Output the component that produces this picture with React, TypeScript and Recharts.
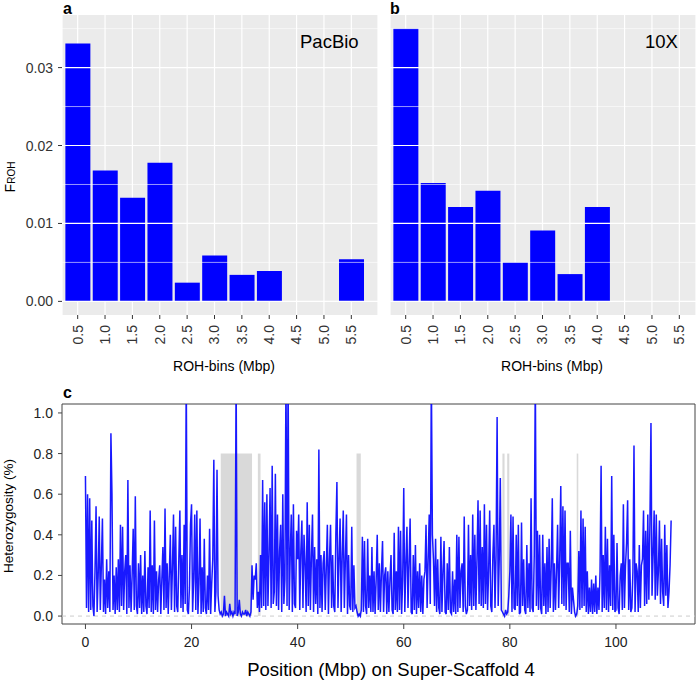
import React from 'react';
import {
  BarChart,
  Bar,
  XAxis,
  YAxis,
  CartesianGrid,
  ReferenceLine,
  ReferenceArea,
  LineChart,
  Line,
} from 'recharts';

const FONT = '"Liberation Sans", Arial, Helvetica, sans-serif';

// ---------- Panels a / b : F_ROH per ROH length bin ----------
const binLabels = ['0.5', '1.0', '1.5', '2.0', '2.5', '3.0', '3.5', '4.0', '4.5', '5.0', '5.5'];
const pacbioFroh = [0.0331, 0.0168, 0.0133, 0.0178, 0.0024, 0.0059, 0.0034, 0.0039, 0, 0, 0.0054];
const tenxFroh = [0.035, 0.0152, 0.0121, 0.0142, 0.005, 0.0091, 0.0035, 0.0121, 0, 0, 0];
const frohMajorTicks = [0, 0.01, 0.02, 0.03];
const frohMinorTicks = [0.005, 0.015, 0.025, 0.035];
const frohDomain: [number, number] = [-0.00175, 0.03675];

// ---------- Panel c : heterozygosity along Super-Scaffold 4 (0.2 Mbp windows) ----------
const hetWindowMbp = 0.2;
const hetValues = [
  0.69, 0.04, 0.6, 0.02, 0.58,
  0.03, 0.47, 0.05, 0.0, 0.22,
  0.54, 0.02, 0.2, 0.49, 0.03,
  0.25, 0.48, 0.02, 0.18, 0.01,
  0.28, 0.04, 0.22, 0.02, 0.9,
  0.6, 0.03, 0.2, 0.01, 0.24,
  0.03, 0.28, 0.02, 0.45, 0.05,
  0.44, 0.03, 0.22, 0.3, 0.01,
  0.67, 0.04, 0.25, 0.02, 0.2,
  0.43, 0.03, 0.59, 0.05, 0.01,
  0.26, 0.04, 0.3, 0.01, 0.2,
  0.02, 0.32, 0.05, 0.01, 0.24,
  0.04, 0.52, 0.02, 0.25, 0.01,
  0.47, 0.03, 0.22, 0.02, 0.18,
  0.25, 0.01, 0.18, 0.34, 0.03,
  0.53, 0.04, 0.26, 0.01, 0.2,
  0.4, 0.03, 0.24, 0.5, 0.02,
  0.44, 0.05, 0.02, 0.28, 0.52,
  0.04, 0.3, 0.02, 0.45, 0.06,
  1.2, 0.03, 0.01, 0.14, 0.45,
  0.55, 0.02, 0.18, 0.5, 0.03,
  0.52, 0.01, 0.16, 0.48, 0.01,
  0.24, 0.02, 0.38, 0.04, 0.01,
  0.2, 0.03, 0.43, 0.01, 0.16,
  0.28, 0.77, 0.02, 0.12, 0.72,
  0.1, 0.03, 0.01, 0.02, 0.0,
  0.01, 0.1, 0.0, 0.02, 0.01,
  0.0, 0.06, 0.01, 0.02, 0.0,
  0.02, 0.01, 1.2, 0.0, 0.02,
  0.08, 0.01, 0.0, 0.02, 0.01,
  0.01, 0.03, 0.0, 0.02, 0.01,
  0.0, 0.02, 0.25, 0.08, 0.2,
  0.18, 0.26, 0.04, 0.12, 0.02,
  0.3, 0.04, 0.67, 0.05, 0.56,
  0.03, 0.6, 0.05, 0.3, 0.63,
  0.04, 0.74, 0.06, 0.12, 0.7,
  0.05, 0.5, 0.03, 0.32, 0.45,
  0.02, 0.6, 0.06, 0.18, 1.2,
  0.05, 1.2, 0.03, 0.3, 0.5,
  0.02, 0.55, 0.06, 0.04, 0.42,
  0.28, 0.5, 0.03, 0.32, 0.47,
  0.04, 0.4, 0.26, 0.02, 0.56,
  0.05, 0.45, 0.03, 0.3, 0.5,
  0.02, 0.34, 0.06, 0.28, 0.01,
  0.82, 0.04, 0.3, 0.02, 0.26,
  0.32, 0.03, 0.24, 0.45, 0.01,
  0.28, 0.45, 0.04, 0.3, 0.05,
  0.02, 0.4, 0.66, 0.04, 0.28,
  0.48, 0.02, 0.3, 0.52, 0.04,
  0.28, 0.5, 0.01, 0.3, 0.05,
  0.03, 0.44, 0.02, 0.25, 0.04,
  0.05, 0.02, 0.0, 0.01, 0.0,
  0.03, 0.39, 0.02, 0.37, 0.05,
  0.01, 0.38, 0.04, 0.2, 0.02,
  0.34, 0.02, 0.22, 0.01, 0.18,
  0.4, 0.03, 0.26, 0.02, 0.22,
  0.37, 0.02, 0.2, 0.24, 0.01,
  0.22, 0.02, 0.18, 0.3, 0.03,
  0.01, 0.41, 0.03, 0.22, 0.02,
  0.44, 0.03, 0.42, 0.01, 0.18,
  0.63, 0.02, 0.26, 0.44, 0.04,
  0.26, 0.48, 0.02, 0.01, 0.3,
  0.03, 0.35, 0.01, 0.22, 0.04,
  0.26, 0.02, 0.2, 0.01, 0.18,
  0.22, 0.45, 0.04, 0.28, 0.5,
  0.06, 1.2, 0.4, 0.28, 0.05,
  0.38, 0.02, 0.28, 0.04, 0.01,
  0.39, 0.02, 0.22, 0.37, 0.02,
  0.01, 0.26, 0.03, 0.34, 0.02,
  0.01, 0.22, 0.02, 0.18, 0.01,
  0.4, 0.02, 0.39, 0.04, 0.22,
  0.26, 0.02, 0.49, 0.05, 0.01,
  0.03, 0.45, 0.05, 0.3, 0.03,
  0.5, 0.05, 0.4, 0.03, 0.28,
  0.57, 0.06, 0.52, 0.05, 0.34,
  0.04, 0.55, 0.06, 0.45, 0.03,
  0.22, 0.52, 0.05, 0.02, 0.3,
  0.45, 0.04, 0.3, 0.98, 0.05,
  0.28, 0.68, 0.03, 0.02, 0.01,
  0.0, 0.03, 0.01, 0.02, 0.1,
  0.22, 0.5, 0.02, 0.49, 0.04,
  0.03, 0.4, 0.05, 0.45, 0.01,
  0.02, 0.46, 0.05, 0.28, 0.03,
  0.01, 0.35, 0.04, 0.26, 0.02,
  0.58, 0.04, 0.02, 0.3, 1.2,
  0.05, 0.42, 0.03, 0.4, 0.04,
  0.01, 0.4, 0.05, 0.26, 0.01,
  0.34, 0.02, 0.38, 0.04, 0.24,
  0.58, 0.02, 0.26, 0.03, 0.22,
  0.45, 0.04, 0.28, 0.64, 0.06,
  0.54, 0.05, 0.52, 0.03, 0.26,
  0.26, 0.02, 0.42, 0.01, 0.14,
  0.08, 0.02, 0.0, 0.01, 0.05,
  0.32, 0.03, 0.52, 0.04, 0.48,
  0.05, 0.44, 0.02, 0.22, 0.01,
  0.14, 0.02, 0.18, 0.01, 0.16,
  0.02, 0.2, 0.01, 0.14, 0.03,
  0.22, 0.74, 0.02, 0.3, 0.04,
  0.44, 0.03, 0.38, 0.02, 0.25,
  0.05, 0.69, 0.03, 0.4, 0.02,
  0.03, 0.36, 0.04, 0.01, 0.2,
  0.26, 0.03, 0.55, 0.04, 0.25,
  0.36, 0.57, 0.03, 0.28, 0.02,
  0.04, 0.22, 0.84, 0.02, 0.26,
  0.22, 0.02, 0.35, 0.04, 0.25,
  0.28, 0.52, 0.05, 0.42, 0.06,
  0.5, 0.08, 0.45, 0.95, 0.1,
  0.3, 0.52, 0.08, 0.5, 0.1,
  0.22, 0.47, 0.06, 0.38, 0.12,
  0.05, 0.45, 0.1, 0.35, 0.04,
  0.12, 0.25, 0.47,
];
const rohStartMbp = [25.5, 32.5, 51.1, 78.6, 79.5, 92.6];
const rohEndMbp = [31.4, 33.0, 51.9, 79.0, 79.9, 92.9];
const rohTopHet = 0.8;
const posTicks = [0, 20, 40, 60, 80, 100];
const hetTicks = [0, 0.2, 0.4, 0.6, 0.8, 1.0];
const posDomain: [number, number] = [-4.42, 114.9];
const hetDomain: [number, number] = [-0.039, 1.044];

const pacbioData = binLabels.map((bin, i) => ({ bin, froh: pacbioFroh[i] }));
const tenxData = binLabels.map((bin, i) => ({ bin, froh: tenxFroh[i] }));
const hetData = hetValues.map((het, i) => ({ pos: i * hetWindowMbp, het }));

const RotatedTick = (props: any) => {
  const { x, y, payload } = props;
  return (
    <text
      x={x}
      y={y}
      transform={`rotate(-90 ${x} ${y})`}
      textAnchor="end"
      dy="0.35em"
      fill="#333333"
      fontSize={14}
      fontFamily={FONT}
    >
      {payload.value}
    </text>
  );
};

const LeftTick = (props: any) => {
  const { x, y, payload, digits, color } = props;
  return (
    <text x={x} y={y} textAnchor="end" dy="0.36em" fill={color} fontSize={14} fontFamily={FONT}>
      {Number(payload.value).toFixed(digits)}
    </text>
  );
};

const BottomTick = (props: any) => {
  const { x, y, payload } = props;
  return (
    <text x={x} y={y} textAnchor="middle" dy="0.71em" fill="#222222" fontSize={14} fontFamily={FONT}>
      {payload.value}
    </text>
  );
};

const gridLines = () => [
  ...frohMinorTicks.map((v) => (
    <ReferenceLine key={'mi' + v} y={v} stroke="#FFFFFF" strokeWidth={0.6} ifOverflow="hidden" />
  )),
  ...frohMajorTicks.map((v) => (
    <ReferenceLine key={'ma' + v} y={v} stroke="#FFFFFF" strokeWidth={1.2} ifOverflow="hidden" />
  )),
];

export default function App() {
  return (
    <div
      style={{
        position: 'absolute',
        left: 0,
        top: 0,
        width: 700,
        height: 681,
        background: '#FFFFFF',
        fontFamily: FONT,
        overflow: 'hidden',
      }}
    >
      {/* Panel a */}
      <div style={{ position: 'absolute', left: 0, top: 0 }}>
        <BarChart
          width={385}
          height={380}
          data={pacbioData}
          margin={{ top: 15, right: 7, bottom: 0, left: 0 }}
          barCategoryGap="5%"
        >
          <CartesianGrid fill="#EBEBEB" stroke="#FFFFFF" strokeWidth={1.2} horizontal={false} />
          {gridLines()}
          <XAxis
            dataKey="bin"
            type="category"
            interval={0}
            padding={{ left: 2, right: 13 }}
            height={65}
            tickSize={4}
            tickMargin={6}
            axisLine={false}
            tickLine={{ stroke: '#333333' }}
            tick={<RotatedTick />}
          />
          <YAxis
            type="number"
            domain={frohDomain}
            ticks={frohMajorTicks}
            allowDataOverflow
            width={62}
            tickSize={4}
            tickMargin={5}
            axisLine={false}
            tickLine={{ stroke: '#333333' }}
            tick={<LeftTick digits={2} color="#333333" />}
          />
          <Bar dataKey="froh" fill="#0000FF" isAnimationActive={false} />
        </BarChart>
      </div>

      {/* Panel b */}
      <div style={{ position: 'absolute', left: 380, top: 0 }}>
        <BarChart
          width={320}
          height={380}
          data={tenxData}
          margin={{ top: 15, right: 4, bottom: 0, left: 10 }}
          barCategoryGap="5%"
        >
          <CartesianGrid fill="#EBEBEB" stroke="#FFFFFF" strokeWidth={1.2} horizontal={false} />
          {gridLines()}
          <XAxis
            dataKey="bin"
            type="category"
            interval={0}
            padding={{ left: 2, right: 3 }}
            height={65}
            tickSize={4}
            tickMargin={6}
            axisLine={false}
            tickLine={{ stroke: '#333333' }}
            tick={<RotatedTick />}
          />
          <YAxis type="number" domain={frohDomain} ticks={frohMajorTicks} allowDataOverflow hide />
          <Bar dataKey="froh" fill="#0000FF" isAnimationActive={false} />
        </BarChart>
      </div>

      {/* Panel c */}
      <div style={{ position: 'absolute', left: 0, top: 390 }}>
        <LineChart
          width={700}
          height={291}
          data={hetData}
          margin={{ top: 14, right: 5, bottom: 0, left: 0 }}
        >
          <XAxis
            dataKey="pos"
            type="number"
            domain={posDomain}
            ticks={posTicks}
            allowDataOverflow
            height={57}
            tickSize={5}
            tickMargin={8}
            axisLine={false}
            tickLine={{ stroke: '#444444' }}
            tick={<BottomTick />}
          />
          <YAxis
            type="number"
            domain={hetDomain}
            ticks={hetTicks}
            allowDataOverflow
            width={62}
            tickSize={4}
            tickMargin={5}
            axisLine={false}
            tickLine={{ stroke: '#444444' }}
            tick={<LeftTick digits={1} color="#222222" />}
          />
          {rohStartMbp.map((s, i) => (
            <ReferenceArea
              key={'roh' + i}
              x1={s}
              x2={rohEndMbp[i]}
              y1={0}
              y2={rohTopHet}
              fill="#D9D9D9"
              fillOpacity={1}
              stroke="none"
            />
          ))}
          <ReferenceLine y={0} stroke="#CCCCCC" strokeDasharray="4 4" />
          <Line
            type="linear"
            dataKey="het"
            stroke="#0000FF"
            strokeOpacity={0.9}
            strokeWidth={1.5}
            dot={false}
            activeDot={false}
            isAnimationActive={false}
          />
          <ReferenceArea
            x1={posDomain[0]}
            x2={posDomain[1]}
            y1={hetDomain[0]}
            y2={hetDomain[1]}
            fill="none"
            fillOpacity={0}
            stroke="#444444"
            strokeWidth={1}
            ifOverflow="visible"
          />
        </LineChart>
      </div>

      {/* Annotations */}
      <svg
        width={700}
        height={681}
        style={{ position: 'absolute', left: 0, top: 0, pointerEvents: 'none' }}
        fontFamily={FONT}
      >
        <text x={63} y={14} fontSize={16} fontWeight="bold" fill="#000">a</text>
        <text x={390} y={14} fontSize={16} fontWeight="bold" fill="#000">b</text>
        <text x={63} y={398} fontSize={16} fontWeight="bold" fill="#000">c</text>
        <text x={300} y={48} fontSize={18.5} fill="#000">PacBio</text>
        <text x={645} y={48} fontSize={18.5} fill="#000">10X</text>
        <text x={224} y={371} fontSize={14} textAnchor="middle" fill="#000">ROH-bins (Mbp)</text>
        <text x={552} y={371} fontSize={14} textAnchor="middle" fill="#000">ROH-bins (Mbp)</text>
        <text transform="translate(15,177) rotate(-90)" textAnchor="middle" fill="#000">
          <tspan fontSize={14}>F</tspan>
          <tspan fontSize={10}>ROH</tspan>
        </text>
        <text transform="translate(13,516) rotate(-90)" textAnchor="middle" fontSize={13.5} fill="#000">
          Heterozygosity (%)
        </text>
        <text x={391} y={676} textAnchor="middle" fontSize={18.5} fill="#000">
          Position (Mbp) on Super-Scaffold 4
        </text>
      </svg>
    </div>
  );
}
